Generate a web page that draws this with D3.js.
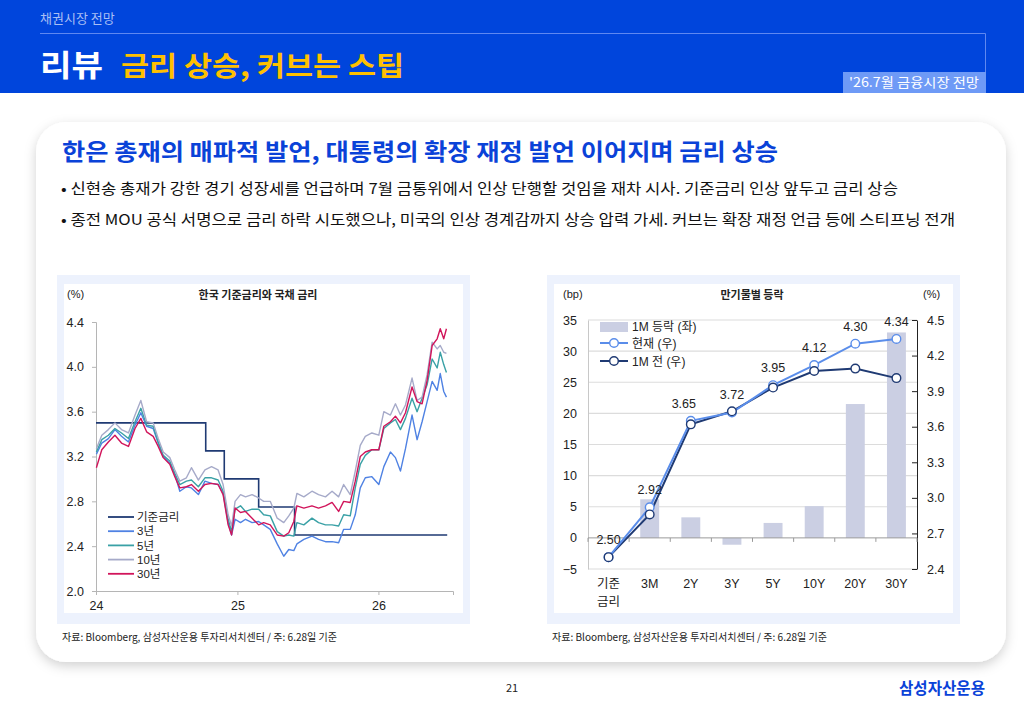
<!DOCTYPE html>
<html>
<head>
<meta charset="utf-8">
<script src="https://cdn.jsdelivr.net/npm/d3@7"></script>
<style>
  body { margin: 0; background: #fff; }
  svg { display: block; }
  text { font-family: "Noto Sans CJK KR", "Noto Sans", sans-serif; }
  .num { font-family: "Liberation Sans", "Noto Sans CJK KR", sans-serif; }
</style>
</head>
<body>
<svg id="page" width="1024" height="709"></svg>
<script>
// ---- left chart data ----
const rateDates = ["2024-01-01", "2024-10-11", "2024-11-28", "2025-02-25", "2025-05-29", "2026-06-28"];
const baseRate = [3.50, 3.25, 3.00, 2.75, 2.50, 2.50];

const yieldDates = [
  "2024-01-02", "2024-01-16", "2024-02-02", "2024-02-19", "2024-03-07", "2024-03-25", "2024-04-11",
  "2024-04-26", "2024-05-11", "2024-05-28", "2024-06-10", "2024-06-23", "2024-07-10", "2024-07-23",
  "2024-08-05", "2024-08-22", "2024-09-04", "2024-09-22", "2024-10-09", "2024-10-26", "2024-11-12",
  "2024-11-25", "2024-12-08", "2024-12-17", "2024-12-26", "2025-01-09", "2025-01-22", "2025-02-08",
  "2025-02-25", "2025-03-10", "2025-03-27", "2025-04-14", "2025-05-01", "2025-05-14", "2025-05-27",
  "2025-06-04", "2025-06-22", "2025-07-13", "2025-07-30", "2025-08-17", "2025-09-03", "2025-09-20",
  "2025-10-03", "2025-10-20", "2025-11-02", "2025-11-15", "2025-11-28", "2025-12-15", "2026-01-02",
  "2026-01-15", "2026-02-01", "2026-02-14", "2026-02-27", "2026-03-12", "2026-03-29", "2026-04-11",
  "2026-04-24", "2026-05-07", "2026-05-20", "2026-06-02", "2026-06-10", "2026-06-19", "2026-06-26"
];
const y3 = [3.22, 3.32, 3.36, 3.44, 3.38, 3.33, 3.48, 3.59, 3.47, 3.45, 3.32, 3.20, 3.14, 3.04,
  2.89, 2.93, 2.92, 2.86, 2.98, 2.96, 2.95, 2.87, 2.61, 2.50, 2.64, 2.61, 2.64, 2.61,
  2.62, 2.59, 2.55, 2.42, 2.31, 2.37, 2.36, 2.42, 2.46, 2.49, 2.46, 2.44, 2.44, 2.43,
  2.55, 2.55, 2.68, 2.92, 3.01, 3.02, 2.95, 3.11, 3.24, 3.19, 3.07, 3.27, 3.57, 3.35,
  3.51, 3.69, 3.87, 3.79, 3.94, 3.78, 3.73];
const y5 = [3.24, 3.35, 3.39, 3.45, 3.41, 3.36, 3.51, 3.63, 3.48, 3.47, 3.33, 3.21, 3.16, 3.05,
  2.95, 2.98, 2.99, 2.93, 3.01, 3.01, 2.99, 2.89, 2.64, 2.53, 2.73, 2.76, 2.71, 2.73,
  2.73, 2.68, 2.67, 2.53, 2.49, 2.50, 2.49, 2.61, 2.59, 2.65, 2.61, 2.59, 2.59, 2.58,
  2.68, 2.67, 2.92, 3.13, 3.21, 3.26, 3.26, 3.45, 3.50, 3.53, 3.44, 3.54, 3.72, 3.60,
  3.72, 3.84, 4.07, 3.99, 4.13, 4.02, 3.95];
const y10 = [3.27, 3.39, 3.44, 3.50, 3.44, 3.41, 3.57, 3.70, 3.51, 3.50, 3.36, 3.24, 3.19, 3.08,
  2.98, 3.01, 3.10, 2.99, 3.08, 3.11, 3.08, 2.95, 2.68, 2.58, 2.80, 2.86, 2.84, 2.86,
  2.83, 2.80, 2.80, 2.65, 2.61, 2.67, 2.74, 2.87, 2.84, 2.89, 2.86, 2.84, 2.89, 2.84,
  2.95, 2.86, 3.07, 3.30, 3.38, 3.41, 3.39, 3.60, 3.57, 3.67, 3.57, 3.66, 3.90, 3.70,
  3.73, 3.93, 4.22, 4.16, 4.19, 4.13, 4.12];
const y30 = [3.10, 3.26, 3.33, 3.39, 3.32, 3.29, 3.45, 3.54, 3.42, 3.38, 3.29, 3.19, 3.13, 3.02,
  2.92, 2.93, 2.95, 2.89, 2.95, 2.96, 2.95, 2.86, 2.59, 2.50, 2.74, 2.70, 2.71, 2.65,
  2.59, 2.61, 2.59, 2.50, 2.49, 2.52, 2.62, 2.76, 2.74, 2.76, 2.74, 2.76, 2.79, 2.71,
  2.80, 2.79, 2.98, 3.20, 3.24, 3.26, 3.26, 3.47, 3.51, 3.56, 3.50, 3.59, 3.82, 3.69,
  3.67, 3.88, 4.19, 4.25, 4.34, 4.25, 4.34];

const leftYTicks = [2.0, 2.4, 2.8, 3.2, 3.6, 4.0, 4.4];
const leftXTicks = ["2024-01-01", "2025-01-01", "2026-01-01"];
const leftXLabels = ["24", "25", "26"];

// ---- right chart data ----
const maturities = ["기준금리", "3M", "2Y", "3Y", "5Y", "10Y", "20Y", "30Y"];
const change1M = [0, 6.2, 3.3, -1.1, 2.4, 5.1, 21.5, 33.0];
const nowYield = [2.50, 2.92, 3.65, 3.72, 3.95, 4.12, 4.30, 4.34];
const prevYield = [2.50, 2.86, 3.62, 3.73, 3.93, 4.07, 4.09, 4.01];
const bpTicks = [-5, 0, 5, 10, 15, 20, 25, 30, 35];
const pctTicks = [2.4, 2.7, 3.0, 3.3, 3.6, 3.9, 4.2, 4.5];

const C = {
  blue: "#0045DC", base: "#1F3A73", y3: "#4F82E3", y5: "#3AA1A6", y10: "#A6AAC9", y30: "#D1155B",
  bar: "#CBCFE3", now: "#5A8DEA", prev: "#1F3A73"
};

const svg = d3.select("#page");
const parse = d3.timeParse("%Y-%m-%d");

// shadow filter
const defs = svg.append("defs");
const f = defs.append("filter").attr("id", "shadow").attr("x", "-5%").attr("y", "-5%").attr("width", "110%").attr("height", "115%");
f.append("feDropShadow").attr("dx", 0).attr("dy", 4).attr("stdDeviation", 6)
  .attr("flood-color", "#000").attr("flood-opacity", 0.18);

// ---- header ----
svg.append("rect").attr("width", 1024).attr("height", 93).attr("fill", C.blue);
svg.append("text").attr("x", 40).attr("y", 23).attr("fill", "#A9BFF4").attr("font-size", 13).text("채권시장 전망");
svg.append("path").attr("d", "M40,33.5H985.5V74").attr("fill", "none").attr("stroke", "#5F88F0").attr("stroke-width", 1);
svg.append("text").attr("x", 40).attr("y", 76).attr("fill", "#fff").attr("font-size", 30).attr("font-weight", 700)
  .attr("textLength", 63).attr("lengthAdjust", "spacingAndGlyphs").text("리뷰");
svg.append("text").attr("x", 121).attr("y", 76).attr("fill", "#FFC000").attr("font-size", 27).attr("font-weight", 700)
  .attr("textLength", 283).attr("lengthAdjust", "spacingAndGlyphs").text("금리 상승, 커브는 스팁");
svg.append("rect").attr("x", 843).attr("y", 72).attr("width", 143).attr("height", 21).attr("fill", "#6E9AF6");
svg.append("text").attr("x", 914).attr("y", 87).attr("text-anchor", "middle").attr("fill", "#fff").attr("font-size", 13)
  .attr("textLength", 130).attr("lengthAdjust", "spacingAndGlyphs").text("'26.7월 금융시장 전망");

// ---- card ----
svg.append("rect").attr("x", 36).attr("y", 122).attr("width", 970).attr("height", 540).attr("rx", 30)
  .attr("fill", "#fff").attr("filter", "url(#shadow)");
svg.append("text").attr("x", 62).attr("y", 160).attr("fill", "#0A42D8").attr("font-size", 23).attr("font-weight", 700)
  .attr("textLength", 716).attr("lengthAdjust", "spacingAndGlyphs")
  .text("한은 총재의 매파적 발언, 대통령의 확장 재정 발언 이어지며 금리 상승");
svg.append("text").attr("x", 61).attr("y", 194).attr("fill", "#111").attr("font-size", 15)
  .attr("textLength", 837).attr("lengthAdjust", "spacingAndGlyphs")
  .text("• 신현송 총재가 강한 경기 성장세를 언급하며 7월 금통위에서 인상 단행할 것임을 재차 시사. 기준금리 인상 앞두고 금리 상승");
svg.append("text").attr("x", 61).attr("y", 225).attr("fill", "#111").attr("font-size", 15)
  .attr("textLength", 894).attr("lengthAdjust", "spacingAndGlyphs")
  .text("• 종전 MOU 공식 서명으로 금리 하락 시도했으나, 미국의 인상 경계감까지 상승 압력 가세. 커브는 확장 재정 언급 등에 스티프닝 전개");

// panels
[57, 547].forEach(px => {
  svg.append("rect").attr("x", px).attr("y", 275).attr("width", 413).attr("height", 349).attr("fill", "#EDF2FD");
  svg.append("rect").attr("x", px + 7).attr("y", 284).attr("width", 399).attr("height", 329).attr("fill", "#fff");
  svg.append("text").attr("x", px + 5).attr("y", 641).attr("fill", "#222").attr("font-size", 10.5)
    .attr("textLength", 275).attr("lengthAdjust", "spacingAndGlyphs")
    .text("자료: Bloomberg, 삼성자산운용 투자리서치센터 / 주: 6.28일 기준");
});

// footer
svg.append("text").attr("x", 512).attr("y", 692).attr("text-anchor", "middle").attr("fill", "#222").attr("font-size", 11).text("21");
svg.append("text").attr("x", 985).attr("y", 694).attr("text-anchor", "end").attr("fill", "#0A42D8").attr("font-size", 16)
  .attr("font-weight", 700).attr("textLength", 86).attr("lengthAdjust", "spacingAndGlyphs").text("삼성자산운용");

// ================= LEFT CHART =================
const L = svg.append("g");
const xL = d3.scaleTime().domain([parse("2024-01-01"), parse("2026-07-13")]).range([96, 453]);
const yL = d3.scaleLinear().domain([2.0, 4.4]).range([591, 322]);

L.append("text").attr("x", 258).attr("y", 299).attr("text-anchor", "middle").attr("font-size", 11).attr("font-weight", 700)
  .attr("fill", "#222").text("한국 기준금리와 국채 금리");
L.append("text").attr("class", "num").attr("x", 67).attr("y", 298).attr("font-size", 11).attr("fill", "#222").text("(%)");

const axL = L.append("g").attr("transform", "translate(96,0)")
  .call(d3.axisLeft(yL).tickValues(leftYTicks).tickFormat(d3.format(".1f")).tickSize(4).tickPadding(8));
const axB = L.append("g").attr("transform", "translate(0,591)")
  .call(d3.axisBottom(xL).tickValues(leftXTicks.map(parse)).tickFormat((d, i) => leftXLabels[i]).tickSize(4).tickPadding(6));
[axL, axB].forEach(a => {
  a.select(".domain").attr("stroke", "#B5B5B5");
  a.selectAll(".tick line").attr("stroke", "#B5B5B5");
  a.selectAll("text").attr("class", "num").attr("font-size", 12.5).attr("fill", "#222");
});

const lineL = d3.line().x(d => xL(d[0])).y(d => yL(d[1]));
const stepL = d3.line().curve(d3.curveStepAfter).x(d => xL(d[0])).y(d => yL(d[1]));
const yd = yieldDates.map(parse);

L.append("path").datum(rateDates.map((d, i) => [parse(d), baseRate[i]])).attr("d", stepL)
  .attr("fill", "none").attr("stroke", C.base).attr("stroke-width", 1.6);
[[y3, C.y3], [y5, C.y5], [y10, C.y10], [y30, C.y30]].forEach(([vals, col]) => {
  L.append("path").datum(vals.map((v, i) => [yd[i], v])).attr("d", lineL)
    .attr("fill", "none").attr("stroke", col).attr("stroke-width", 1.4).attr("stroke-linejoin", "round");
});

const legL = [["기준금리", C.base], ["3년", C.y3], ["5년", C.y5], ["10년", C.y10], ["30년", C.y30]];
legL.forEach(([name, col], i) => {
  const yy = 517 + i * 14.2;
  L.append("line").attr("x1", 108).attr("x2", 134).attr("y1", yy).attr("y2", yy).attr("stroke", col).attr("stroke-width", 1.8);
  L.append("text").attr("class", "num").attr("x", 137).attr("y", yy + 4.2).attr("font-size", 11.5).attr("fill", "#222").text(name);
});

// ================= RIGHT CHART =================
const R = svg.append("g");
const xR = d3.scaleBand().domain(maturities).range([588, 917]).paddingInner(0.54).paddingOuter(0.27);
const yBp = d3.scaleLinear().domain([-5, 35]).range([569, 320]);
const yPct = d3.scaleLinear().domain([2.4, 4.5]).range([569, 320]);
const cx = d => xR(d) + xR.bandwidth() / 2;

R.append("text").attr("x", 752).attr("y", 299).attr("text-anchor", "middle").attr("font-size", 11).attr("font-weight", 700)
  .attr("fill", "#222").text("만기물별 등락");
R.append("text").attr("class", "num").attr("x", 563).attr("y", 298).attr("font-size", 11).attr("fill", "#222").text("(bp)");
R.append("text").attr("class", "num").attr("x", 923).attr("y", 298).attr("font-size", 11).attr("fill", "#222").text("(%)");

// gridlines
R.append("g").selectAll("line").data(bpTicks.filter(t => t !== 0)).join("line")
  .attr("x1", 588).attr("x2", 917).attr("y1", d => yBp(d)).attr("y2", d => yBp(d))
  .attr("stroke", "#DCDCDC").attr("stroke-width", 1.2);

const axRL = R.append("g").attr("transform", "translate(588,0)")
  .call(d3.axisLeft(yBp).tickValues(bpTicks).tickSize(0).tickPadding(11));
axRL.select(".domain").attr("stroke", "#C8C8C8");
axRL.selectAll("text").attr("class", "num").attr("font-size", 12.5).attr("fill", "#222");

const axRR = R.append("g").attr("transform", "translate(917,0)")
  .call(d3.axisRight(yPct).tickValues(pctTicks).tickFormat(d3.format(".1f")).tickSizeInner(-5).tickSizeOuter(0).tickPadding(10));
axRR.select(".domain").attr("stroke", "#222");
axRR.selectAll(".tick line").attr("stroke", "#222");
axRR.selectAll("text").attr("class", "num").attr("font-size", 12.5).attr("fill", "#222");

// bars
R.append("g").selectAll("rect").data(maturities).join("rect")
  .attr("x", d => xR(d)).attr("width", xR.bandwidth())
  .attr("y", (d, i) => yBp(Math.max(0, change1M[i])))
  .attr("height", (d, i) => Math.abs(yBp(change1M[i]) - yBp(0)))
  .attr("fill", C.bar);

// zero line with category ticks
R.append("line").attr("x1", 588).attr("x2", 917).attr("y1", yBp(0)).attr("y2", yBp(0)).attr("stroke", "#9A9A9A");
R.append("g").selectAll("line").data(d3.range(maturities.length + 1)).join("line")
  .attr("x1", i => 588 + i * xR.step()).attr("x2", i => 588 + i * xR.step())
  .attr("y1", yBp(0)).attr("y2", yBp(0) + 4).attr("stroke", "#9A9A9A");

// category labels
maturities.forEach(m => {
  const t = R.append("text").attr("class", "num").attr("x", cx(m)).attr("y", 588).attr("text-anchor", "middle")
    .attr("font-size", 12.5).attr("fill", "#222");
  if (m === "기준금리") {
    t.append("tspan").attr("x", cx(m)).text("기준");
    t.append("tspan").attr("x", cx(m)).attr("dy", 18).text("금리");
  } else t.text(m);
});

// lines
const lineR = vals => d3.line().x((d, i) => cx(maturities[i])).y(d => yPct(d))(vals);
R.append("path").attr("d", lineR(prevYield)).attr("fill", "none").attr("stroke", C.prev).attr("stroke-width", 2);
R.append("path").attr("d", lineR(nowYield)).attr("fill", "none").attr("stroke", C.now).attr("stroke-width", 2);
R.append("g").selectAll("circle").data(nowYield).join("circle")
  .attr("cx", (d, i) => cx(maturities[i])).attr("cy", d => yPct(d)).attr("r", 4.3)
  .attr("fill", "#fff").attr("stroke", C.now).attr("stroke-width", 1.4);
R.append("g").selectAll("circle").data(prevYield).join("circle")
  .attr("cx", (d, i) => cx(maturities[i])).attr("cy", d => yPct(d)).attr("r", 4.3)
  .attr("fill", "#fff").attr("stroke", C.prev).attr("stroke-width", 1.4);

// value labels
R.append("g").selectAll("text").data(nowYield).join("text")
  .attr("class", "num").attr("x", (d, i) => cx(maturities[i]) + (i === 2 ? -7 : 0))
  .attr("y", d => yPct(d) - 13).attr("text-anchor", "middle").attr("font-size", 12.5).attr("fill", "#222")
  .text(d => d.toFixed(2));

// legend
R.append("rect").attr("x", 600).attr("y", 322).attr("width", 28).attr("height", 10).attr("fill", C.bar);
R.append("text").attr("class", "num").attr("x", 632).attr("y", 331).attr("font-size", 12).attr("fill", "#222").text("1M 등락 (좌)");
[["현재 (우)", C.now, 343], ["1M 전 (우)", C.prev, 361]].forEach(([name, col, yy]) => {
  R.append("line").attr("x1", 600).attr("x2", 628).attr("y1", yy).attr("y2", yy).attr("stroke", col).attr("stroke-width", 2);
  R.append("circle").attr("cx", 614).attr("cy", yy).attr("r", 4.3).attr("fill", "#fff").attr("stroke", col).attr("stroke-width", 1.4);
  R.append("text").attr("class", "num").attr("x", 632).attr("y", yy + 4.5).attr("font-size", 12).attr("fill", "#222").text(name);
});
</script>
</body>
</html>
